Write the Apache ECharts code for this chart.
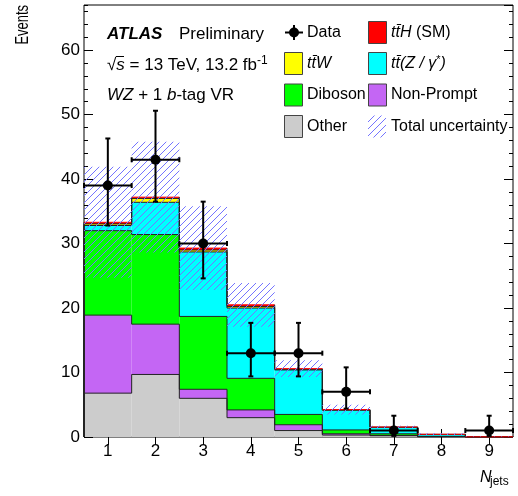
<!DOCTYPE html>
<html><head><meta charset="utf-8">
<script src="https://cdn.jsdelivr.net/npm/echarts@6/dist/echarts.min.js"></script>
<style>html,body{margin:0;padding:0;background:#fff}#c{width:518px;height:496px}</style>
</head><body><div id="c"></div>
<script>
const categories = ['1','2','3','4','5','6','7','8','9'];
const other     = [6.8, 9.7, 6.0, 3.0, 1.0, 0.3, 0.2, 0.05, 0.02];
const nonPrompt = [12.1, 7.8, 1.4, 1.2, 0.9, 0.2, 0.05, 0.02, 0.0];
const diboson   = [13.1, 13.9, 11.3, 4.9, 1.6, 0.6, 0.25, 0.03, 0.0];
const ttZ       = [0.8, 5.0, 10.0, 10.9, 6.9, 3.05, 1.0, 0.3, 0.01];
const ttW       = [0.25, 0.6, 0.3, 0.25, 0.1, 0.05, 0.02, 0.0, 0.0];
const ttH       = [0.25, 0.2, 0.3, 0.25, 0.1, 0.05, 0.03, 0.02, 0.0];
const totalUnc  = [8.6, 8.6, 6.5, 3.4, 1.3, 0.75, 0.2, 0.15, 0.03];
const dataVals  = [39, 43, 30, 13, 13, 7, 1, null, 1];
const dataErrUp = [7.3, 7.6, 6.5, 4.7, 4.7, 3.8, 2.3, null, 2.3];
const dataErrDn = [6.2, 6.5, 5.4, 3.6, 3.6, 2.6, 0.83, null, 0.83];
const yMax = 67;

const FONT = '"Liberation Sans", Arial, Helvetica, sans-serif';
const layers = [
  {name:'Other', vals: other, color:'#cccccc', line:'#222'},
  {name:'Non-Prompt', vals: nonPrompt, color:'#c466f4', line:'#222'},
  {name:'Diboson', vals: diboson, color:'#00ff00', line:'#222'},
  {name:'ttZ', vals: ttZ, color:'#00ffff', line:'#222'},
  {name:'ttW', vals: ttW, color:'#ffff00', line:'#222'},
  {name:'ttH', vals: ttH, color:'#ff0000', line:'#ff0000'}
];

// hatch pattern
const pc = document.createElement('canvas'); pc.width = 7; pc.height = 7;
const g = pc.getContext('2d'); g.strokeStyle = '#7474ff'; g.lineWidth = 1;
g.beginPath(); g.moveTo(0,7); g.lineTo(7,0); g.moveTo(-3.5,3.5); g.lineTo(3.5,-3.5); g.moveTo(3.5,10.5); g.lineTo(10.5,3.5); g.stroke();
const hatch = {image: pc, repeat: 'repeat'};

const series = [];
let cum = categories.map(() => 0);
layers.forEach((L, k) => {
  const below = cum.slice();
  const top = cum.map((c, i) => c + L.vals[i]);
  cum = top;
  const data = categories.map((c, i) => [i, below[i], top[i], i > 0 ? top[i-1] : 0, i === categories.length - 1 ? 1 : 0]);
  series.push({
    type: 'custom', name: L.name, z: 2, silent: true,
    encode: {x: 0, y: [1, 2]}, data,
    renderItem(params, api) {
      const i = api.value(0);
      const w = api.size([1, 0])[0];
      const c = api.coord([i, api.value(2)]);
      const b = api.coord([i, api.value(1)]);
      const p = api.coord([i, api.value(3)]);
      const x0 = c[0] - w/2, x1 = c[0] + w/2;
      const kids = [
        {type: 'rect', z2: k, shape: {x: x0, y: c[1], width: w, height: b[1] - c[1]}, style: {fill: L.color}},
        {type: 'line', z2: 100 + k, shape: {x1: x0, y1: p[1], x2: x0, y2: c[1]}, style: {stroke: '#222', lineWidth: 1}},
        {type: 'line', z2: 100 + k, shape: {x1: x0, y1: c[1], x2: x1, y2: c[1]}, style: {stroke: L.line, lineWidth: 1}}
      ];
      if (api.value(4)) kids.push({type: 'line', z2: 100 + k, shape: {x1: x1, y1: c[1], x2: x1, y2: api.coord([i, 0])[1]}, style: {stroke: '#222', lineWidth: 1}});
      return {type: 'group', children: kids};
    }
  });
});
const total = cum;

series.push({
  type: 'custom', name: 'Total uncertainty', z: 3, silent: true,
  encode: {x: 0, y: [1, 2]},
  data: categories.map((c, i) => [i, total[i] - totalUnc[i], total[i] + totalUnc[i]]),
  renderItem(params, api) {
    const i = api.value(0);
    const w = api.size([1, 0])[0];
    const t = api.coord([i, api.value(2)]);
    const b = api.coord([i, Math.max(0, api.value(1))]);
    return {type: 'rect', shape: {x: t[0] - w/2, y: t[1], width: w, height: b[1] - t[1]}, style: {fill: hatch}};
  }
});

series.push({
  type: 'custom', name: 'Data', z: 4, silent: true,
  encode: {x: 0, y: 1},
  data: categories.map((c, i) => [i, dataVals[i], dataErrUp[i], dataErrDn[i]]).filter(d => d[1] != null),
  renderItem(params, api) {
    const i = api.value(0), v = api.value(1), up = api.value(2), dn = api.value(3);
    const w = api.size([1, 0])[0];
    const c = api.coord([i, v]); const t = api.coord([i, v + up]); const b = api.coord([i, v - dn]);
    const x0 = c[0] - w/2, x1 = c[0] + w/2, cap = 2.5;
    const ls = {stroke: '#000', lineWidth: 2};
    return {type: 'group', children: [
      {type: 'line', shape: {x1: c[0], y1: t[1], x2: c[0], y2: b[1]}, style: ls},
      {type: 'line', shape: {x1: c[0]-cap, y1: t[1], x2: c[0]+cap, y2: t[1]}, style: ls},
      {type: 'line', shape: {x1: c[0]-cap, y1: b[1], x2: c[0]+cap, y2: b[1]}, style: ls},
      {type: 'line', shape: {x1: x0, y1: c[1], x2: x1, y2: c[1]}, style: ls},
      {type: 'line', shape: {x1: x0, y1: c[1]-cap, x2: x0, y2: c[1]+cap}, style: ls},
      {type: 'line', shape: {x1: x1, y1: c[1]-cap, x2: x1, y2: c[1]+cap}, style: ls},
      {type: 'circle', shape: {cx: c[0], cy: c[1], r: 5}, style: {fill: '#000'}}
    ]};
  }
});

function xAx(pos, show) {
  return {type: 'category', data: categories, position: pos, boundaryGap: true,
    axisLine: {show: false}, splitLine: {show: false},
    axisTick: {show: true, alignWithLabel: true, inside: true, length: 8, lineStyle: {color: '#000', width: 1}},
    axisLabel: {show: show, fontSize: 17, color: '#000', margin: 6, fontFamily: FONT}};
}
function yAx(pos, interval, len, show) {
  return {type: 'value', min: 0, max: yMax, interval: interval, position: pos,
    axisLine: {show: false}, splitLine: {show: false},
    axisTick: {show: true, inside: true, length: len, lineStyle: {color: '#000', width: 1}},
    axisLabel: {show: show, fontSize: 17, color: '#000', margin: 4, fontFamily: FONT, showMaxLabel: false, padding: [2, 0, 0, 0]}};
}

const legendItems = [
  {x: 284, cy: 32.5, kind: 'data', text: [{t: 'Data'}]},
  {x: 368, cy: 32.5, color: '#ff0000', text: [{t: 'tt\u0304H', it: 1}, {t: ' (SM)'}]},
  {x: 284, cy: 63.5, color: '#ffff00', text: [{t: 'tt\u0304W', it: 1}]},
  {x: 368, cy: 63.5, color: '#00ffff', text: [{t: 'tt\u0304(Z / \u03b3', it: 1}, {t: '*', sup: 1}, {t: ')', it: 1}]},
  {x: 284, cy: 95, color: '#00ff00', text: [{t: 'Diboson'}]},
  {x: 368, cy: 95, color: '#c466f4', text: [{t: 'Non-Prompt'}]},
  {x: 284, cy: 126.5, color: '#cccccc', text: [{t: 'Other'}]},
  {x: 368, cy: 126.5, kind: 'hatch', text: [{t: 'Total uncertainty'}]}
];
const rich = {
  n: {fontSize: 16, fontFamily: FONT, color: '#000'},
  i: {fontSize: 16, fontFamily: FONT, fontStyle: 'italic', color: '#000'},
  s: {fontSize: 11, fontFamily: FONT, color: '#000', verticalAlign: 'top', padding: [0, 0, 8, 0]}
};
const graphics = [];
legendItems.forEach(L => {
  if (L.kind === 'data') {
    graphics.push({type: 'line', shape: {x1: 285, y1: L.cy, x2: 303, y2: L.cy}, style: {stroke: '#000', lineWidth: 2}});
    graphics.push({type: 'line', shape: {x1: 294, y1: L.cy - 7.5, x2: 294, y2: L.cy + 7.5}, style: {stroke: '#000', lineWidth: 2}});
    graphics.push({type: 'circle', shape: {cx: 294, cy: L.cy, r: 5}, style: {fill: '#000'}});
  } else if (L.kind === 'hatch') {
    graphics.push({type: 'rect', shape: {x: L.x, y: L.cy - 11, width: 18, height: 22}, style: {fill: hatch}});
  } else {
    graphics.push({type: 'rect', shape: {x: L.x + 0.5, y: L.cy - 11, width: 18, height: 22}, style: {fill: L.color, stroke: '#444', lineWidth: 1}});
  }
  const txt = L.text.map(p => '{' + (p.sup ? 's' : (p.it ? 'i' : 'n')) + '|' + p.t + '}').join('');
  graphics.push({type: 'text', x: L.x + 23, y: L.cy, style: {text: txt, rich: rich, verticalAlign: 'middle', align: 'left'}});
});

const big = {
  n: {fontSize: 17, fontFamily: FONT, color: '#000'},
  i: {fontSize: 17, fontFamily: FONT, fontStyle: 'italic', color: '#000'},
  b: {fontSize: 17, fontFamily: FONT, fontStyle: 'italic', fontWeight: 'bold', color: '#000'},
  s: {fontSize: 12, fontFamily: FONT, color: '#000', verticalAlign: 'top', padding: [0, 0, 9, 0]}
};
graphics.push({type: 'text', x: 107, y: 34, style: {text: '{b|ATLAS}', rich: big, verticalAlign: 'middle'}});
graphics.push({type: 'text', x: 179, y: 34, style: {text: '{n|Preliminary}', rich: big, verticalAlign: 'middle'}});
graphics.push({type: 'text', x: 107, y: 65, style: {text: '{n|\u221a}{i|s}{n| = 13 TeV, 13.2 fb}{s|-1}', rich: big, verticalAlign: 'middle'}});
graphics.push({type: 'line', shape: {x1: 116, y1: 56.5, x2: 124, y2: 56.5}, style: {stroke: '#000', lineWidth: 1}});
graphics.push({type: 'text', x: 107, y: 95, style: {text: '{i|WZ}{n| + 1 }{i|b}{n|-tag VR}', rich: big, verticalAlign: 'middle'}});
graphics.push({type: 'text', x: 23, y: 5, rotation: Math.PI / 2, scaleX: 0.72,
  style: {text: 'Events', fontSize: 18, fontFamily: FONT, fill: '#000', align: 'right', verticalAlign: 'middle'}});
graphics.push({type: 'text', x: 480, y: 478, style: {text: 'N', fontSize: 16, fontStyle: 'italic', fontFamily: FONT, fill: '#000', align: 'left', verticalAlign: 'middle'}});
graphics.push({type: 'text', x: 490, y: 482, style: {text: 'jets', fontSize: 12, fontFamily: FONT, fill: '#000', align: 'left', verticalAlign: 'middle'}});

const chart = echarts.init(document.getElementById('c'), null, {renderer: 'canvas'});
chart.setOption({
  animation: false,
  backgroundColor: '#fff',
  grid: {left: 84, right: 5, top: 5, bottom: 59, show: true, borderColor: '#000', borderWidth: 1, backgroundColor: 'transparent', outerBoundsMode: 'none'},
  xAxis: [xAx('bottom', true), xAx('top', false)],
  yAxis: [yAx('left', 10, 9, true), yAx('left', 2, 4, false), yAx('right', 10, 9, false), yAx('right', 2, 4, false)],
  series: series,
  graphic: graphics
});
</script></body></html>
